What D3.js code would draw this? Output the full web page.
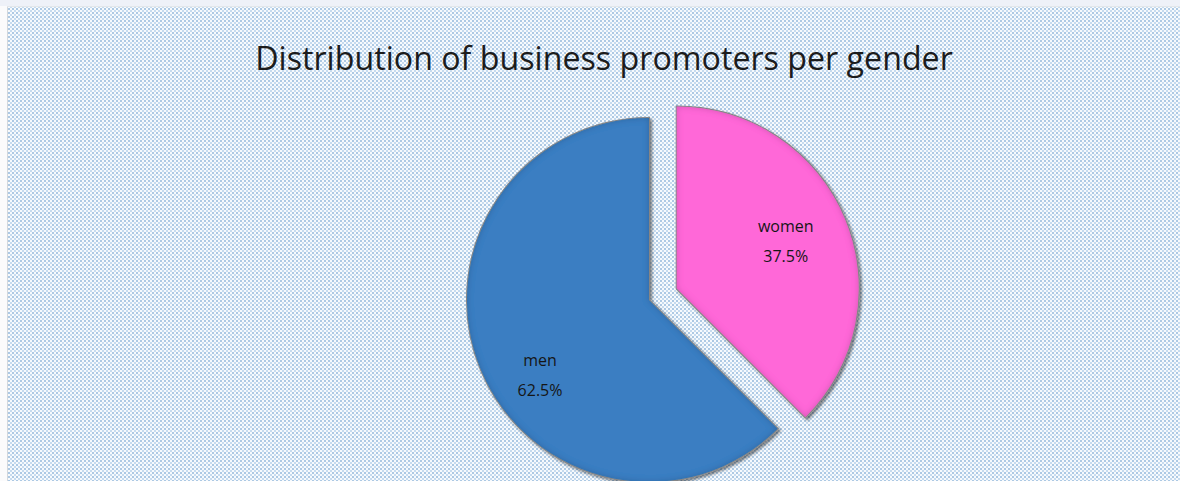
<!DOCTYPE html>
<html>
<head>
<meta charset="utf-8">
<script src="https://cdn.jsdelivr.net/npm/d3@7"></script>
<style>
  html, body { margin: 0; padding: 0; background: #ffffff; }
  svg { display: block; }
</style>
</head>
<body>
<svg id="chart" width="1180" height="481"></svg>
<script>
// Chart data
const categories = ["men", "women"];
const shares = [62.5, 37.5];
const sliceColors = ["#3a7ec2", "#ff68d8"];
const explodedCategory = "women";
const titleText = "Distribution of business promoters per gender";

const W = 1180, H = 481;
const svg = d3.select("#chart");
const defs = svg.append("defs");

// Dotted backdrop pattern
const pat = defs.append("pattern")
  .attr("id", "dots").attr("patternUnits", "userSpaceOnUse")
  .attr("width", 4).attr("height", 4);
pat.append("rect").attr("width", 4).attr("height", 4).attr("fill", "#f7fafd");
pat.append("rect").attr("x", 0).attr("y", 0).attr("width", 2).attr("height", 2).attr("fill", "#adc9e4");
pat.append("rect").attr("x", 2).attr("y", 2).attr("width", 2).attr("height", 2).attr("fill", "#c6dbef");

// Slice shadow
const sh = defs.append("filter").attr("id", "sliceShadow")
  .attr("x", "-20%").attr("y", "-20%").attr("width", "140%").attr("height", "140%");
sh.append("feDropShadow").attr("dx", 2).attr("dy", 2).attr("stdDeviation", 1.6)
  .attr("flood-color", "#000").attr("flood-opacity", 0.5);

// Inner edge darkening for a bevelled look
const bevel = defs.append("filter").attr("id", "bevel");
bevel.append("feGaussianBlur").attr("in", "SourceAlpha").attr("stdDeviation", 3).attr("result", "blur");
bevel.append("feComposite").attr("in", "SourceAlpha").attr("in2", "blur").attr("operator", "arithmetic")
  .attr("k2", 1).attr("k3", -1).attr("result", "edge");
bevel.append("feFlood").attr("flood-color", "#000").attr("flood-opacity", 0.35);
bevel.append("feComposite").attr("in2", "edge").attr("operator", "in").attr("result", "edgeShade");
const bm = bevel.append("feMerge");
bm.append("feMergeNode").attr("in", "SourceGraphic");
bm.append("feMergeNode").attr("in", "edgeShade");

// Page frame
svg.append("rect").attr("x", 0).attr("y", 0).attr("width", W).attr("height", 6).attr("fill", "#eef1f8");
svg.append("rect").attr("x", 0).attr("y", 6).attr("width", 7).attr("height", H - 6).attr("fill", "#fbfbfc");
svg.append("rect").attr("x", 7).attr("y", 6).attr("width", W - 7).attr("height", H - 6).attr("fill", "url(#dots)");
svg.append("line").attr("x1", 7.5).attr("x2", 7.5).attr("y1", 6).attr("y2", H).attr("stroke", "#d4d8dc").attr("stroke-width", 1);
svg.append("line").attr("x1", 7).attr("x2", W).attr("y1", 6.5).attr("y2", 6.5).attr("stroke", "#e2e6ea").attr("stroke-width", 1);

// Title, fitted to its width
const title = svg.append("text")
  .attr("x", 604).attr("y", 70)
  .attr("text-anchor", "middle")
  .attr("font-family", "'Open Sans', 'Noto Sans', sans-serif")
  .attr("font-size", 28)
  .attr("fill", "#1c1c1c")
  .text(titleText);
const tw = title.node().getComputedTextLength();
title.attr("font-size", 28 * 698 / tw);

// Pie
const cx = 649, cy = 300, R = 182, explode = 30;
const data = categories.map((c, i) => ({ name: c, value: shares[i], color: sliceColors[i] }));
const pie = d3.pie().value(d => d.value).sort(null);
// women run clockwise from 12 o'clock, men fill the rest
const ordered = [data[1], data[0]];
const arcs = pie(ordered);
const arc = d3.arc().innerRadius(0).outerRadius(R);
const labelArc = d3.arc().innerRadius(R * 0.66).outerRadius(R * 0.66);

const labelNudge = { men: [2, 26], women: [-2, -5] };

const g = svg.append("g").attr("transform", `translate(${cx},${cy})`);
const slices = g.selectAll("g.slice").data(arcs).join("g")
  .attr("class", "slice")
  .attr("transform", d => {
    if (d.data.name !== explodedCategory) return null;
    const mid = (d.startAngle + d.endAngle) / 2;
    return `translate(${explode * Math.sin(mid)},${-explode * Math.cos(mid)})`;
  });

slices.append("path")
  .attr("d", arc)
  .attr("fill", d => d.data.color)
  .attr("stroke", "#858585")
  .attr("stroke-width", 2)
  .attr("stroke-linejoin", "miter")
  .attr("filter", "url(#sliceShadow)");

slices.append("path")
  .attr("d", arc)
  .attr("fill", d => d.data.color)
  .attr("filter", "url(#bevel)");

const lbl = slices.append("text")
  .attr("transform", d => {
    const [x, y] = labelArc.centroid(d);
    const n = labelNudge[d.data.name] || [0, 0];
    return `translate(${x + n[0]},${y + n[1]})`;
  })
  .attr("text-anchor", "middle")
  .attr("font-family", "'Open Sans', 'Noto Sans', sans-serif")
  .attr("font-size", 16)
  .attr("fill", "#161616");
lbl.append("tspan").attr("x", 0).attr("dy", "-0.35em").text(d => d.data.name);
lbl.append("tspan").attr("x", 0).attr("dy", "1.85em").text(d => d.data.value.toFixed(1) + "%");
</script>
</body>
</html>
